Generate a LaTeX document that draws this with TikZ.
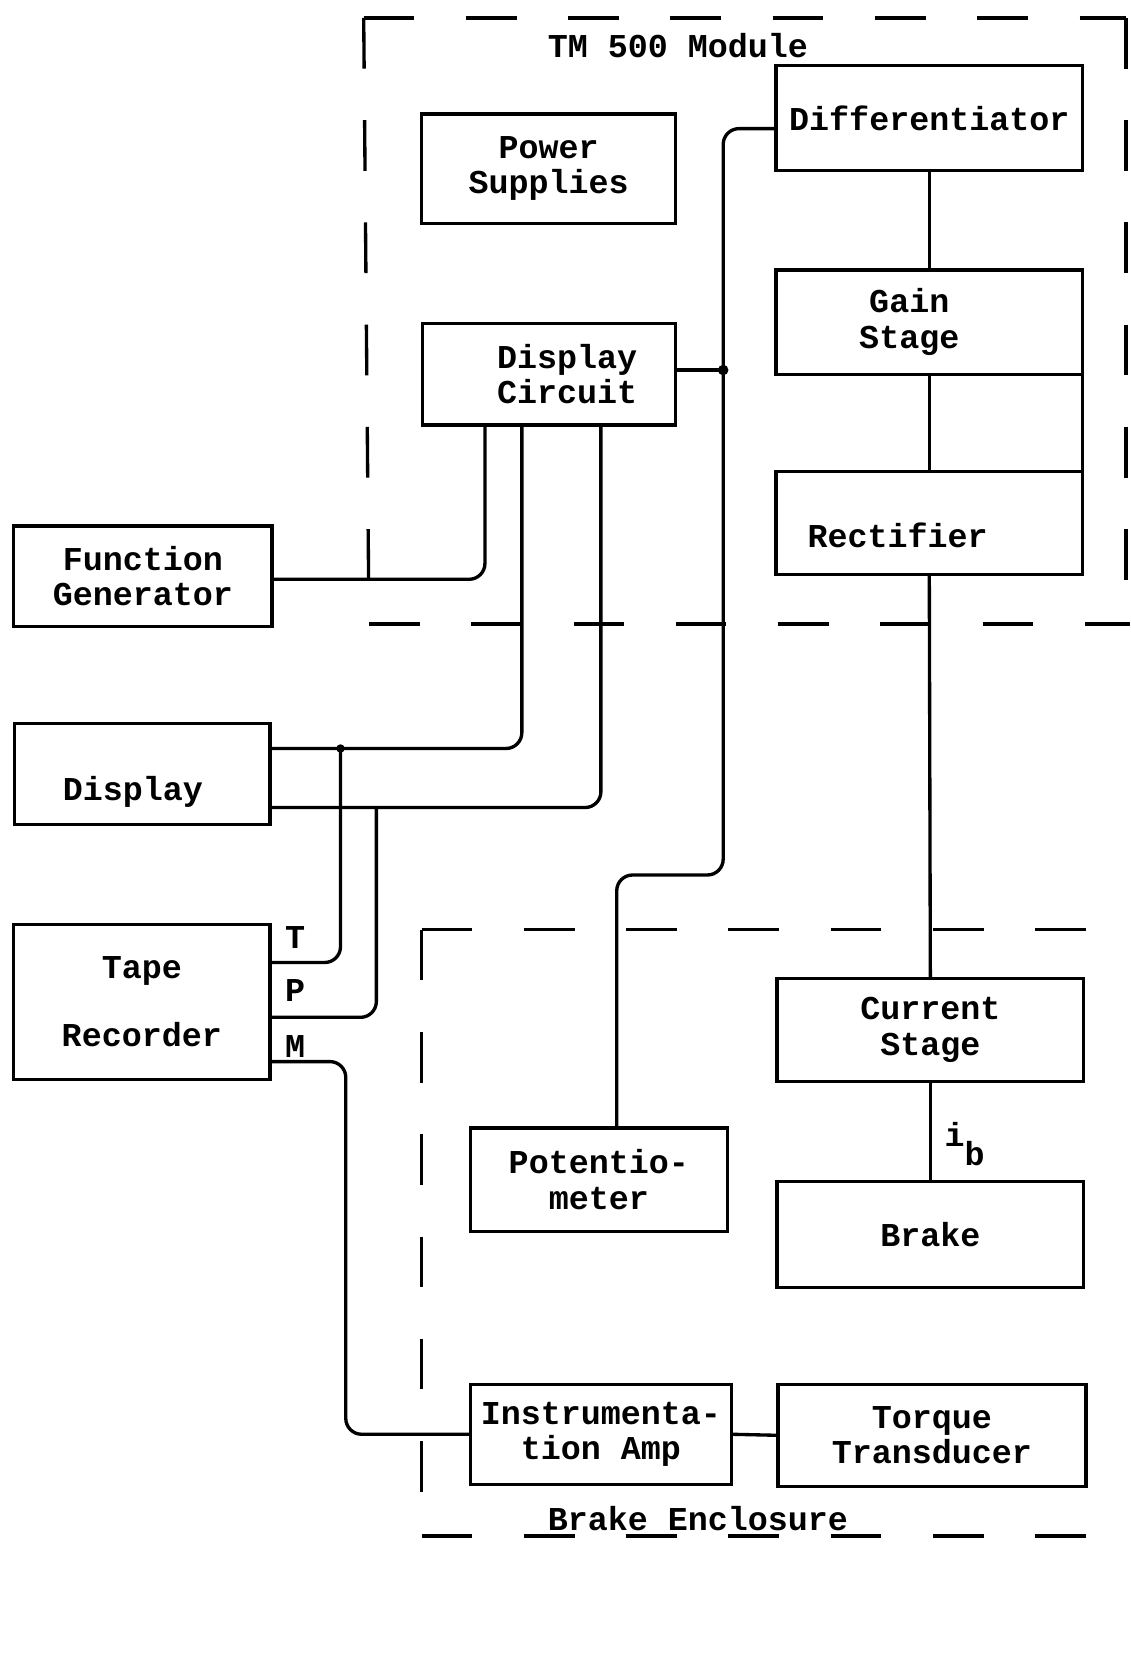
\documentclass[tikz,border=0pt]{standalone}
\usepackage{fontspec}
\setmonofont{Liberation Mono}
\usepackage{tikz}

\begin{document}
\begin{tikzpicture}[
    blk/.style={draw, line width=0.9pt, inner sep=0pt, outer sep=0pt, align=center,
      font=\fontsize{9}{9.6}\selectfont\ttfamily\bfseries},
    tag/.style={font=\fontsize{9}{9.6}\selectfont\ttfamily\bfseries},
    wire/.style={line width=0.9pt, rounded corners=0.15cm},
    encl/.style={line width=0.9pt, dash pattern=on 0.48cm off 0.49cm}
  ]
  \useasboundingbox (0,0) rectangle (10.72,-15.68);

  % TM 500 module outline
  \draw[encl] (3.45,-0.17) -- (10.68,-0.17);
  \draw[encl] (3.45,-0.17) -- (3.50,-5.92);
  \draw[encl] (3.50,-5.92) -- (10.72,-5.92);
  \draw[encl] (10.68,-0.17) -- (10.68,-5.92);
  \node[tag] (tmlbl) at (6.43,-0.43) {TM 500 Module};

  % Brake enclosure outline
  \draw[encl] (4.00,-8.82) -- (10.72,-8.82);
  \draw[encl] (4.00,-8.82) -- (4.00,-14.57);
  \draw[encl] (4.00,-14.57) -- (10.72,-14.57);
  \node[tag] (enclbl) at (6.62,-14.40) {Brake Enclosure};

  % Blocks inside the module
  \node[blk, minimum width=2.41cm, minimum height=1.04cm] (pwr) at (5.205,-1.60) {Power\\Supplies};
  \node[blk, minimum width=2.91cm, minimum height=1.00cm] (diff) at (8.815,-1.12) {Differentiator};
  \node[blk, minimum width=2.40cm, minimum height=0.96cm] (dcirc) at (5.21,-3.55) {\hspace*{3.4mm}Display\\\hspace*{3.4mm}Circuit};
  \node[blk, minimum width=2.91cm, minimum height=0.99cm] (gain) at (8.815,-3.055) {Gain\hspace*{3.8mm}\\Stage\hspace*{3.8mm}};
  \node[blk, minimum width=2.91cm, minimum height=0.98cm] (rect) at (8.815,-4.96) {\raisebox{-1.2mm}[\height][\depth]{Rectifier}\hspace*{6mm}};

  % Outside blocks
  \node[blk, minimum width=2.45cm, minimum height=0.95cm] (fgen) at (1.355,-5.465) {Function\\Generator};
  \node[blk, minimum width=2.42cm, minimum height=0.96cm] (disp) at (1.35,-7.34) {\raisebox{-1.7mm}[\height][\depth]{Display}\hspace*{1.8mm}};
  \node[blk, minimum width=2.43cm, minimum height=1.47cm] (tape) at (1.345,-9.505) {Tape\\[3.1mm]Recorder};

  % Blocks in the brake enclosure
  \node[blk, minimum width=2.91cm, minimum height=0.98cm] (cur) at (8.825,-9.77) {Current\\Stage};
  \node[blk, minimum width=2.44cm, minimum height=0.98cm] (pot) at (5.68,-11.19) {Potentio-\\meter};
  \node[blk, minimum width=2.91cm, minimum height=1.00cm] (brake) at (8.825,-11.71) {Brake};
  \node[blk, minimum width=2.48cm, minimum height=0.95cm] (iamp) at (5.70,-13.605) {Instrumenta-\\tion Amp};
  \node[blk, minimum width=2.92cm, minimum height=0.97cm] (torq) at (8.84,-13.615) {Torque\\Transducer};

  % Junctions
  \coordinate (jn) at (6.86,-3.51);
  \coordinate (tj) at (3.23,-7.10);
  \coordinate (pj) at (3.57,-7.66);

  % Signal chain on the right
  \draw[wire] ([yshift=-1mm]diff.west) -| (6.86,-8.30) -| ([xshift=1.7mm]pot.north);
  \draw[wire] (dcirc.east |- jn) -- (jn);
  \fill (jn) circle (0.05);
  \draw[wire] (diff.south) -- (gain.north);
  \draw[wire] (gain.south) -- (rect.north);
  \draw[wire] (gain.south east) -- (rect.north east);
  \draw[wire] (rect.south) -- (cur.north);
  \draw[wire] (cur.south) -- (brake.north);
  \node[tag] (ib) at (9.15,-10.85) {i\raisebox{-1.8mm}{b}};
  \draw[wire] (iamp.east) -- (torq.west);

  % Display circuit outputs
  \draw[wire] ([xshift=-6.1mm]dcirc.south) |- ([yshift=-0.3mm]fgen.east);
  \draw[wire] ([xshift=-2.6mm]dcirc.south) |- ([yshift=2.4mm]disp.east);
  \draw[wire] ([xshift=4.9mm]dcirc.south) |- ([yshift=-3.2mm]disp.east);

  % Tape recorder channels
  \draw[wire] ([yshift=3.75mm]tape.east) -| (tj);
  \fill (tj) circle (0.04);
  \draw[wire] ([yshift=-1.45mm]tape.east) -| (pj);
  \draw[wire] ([yshift=-5.65mm]tape.east) -| (3.28,-12.5) |- (iamp.west);
  \node[tag] (chT) at (2.80,-8.89) {T};
  \node[tag] (chP) at (2.80,-9.40) {P};
  \node[tag] (chM) at (2.80,-9.93) {M};
\end{tikzpicture}
\end{document}
